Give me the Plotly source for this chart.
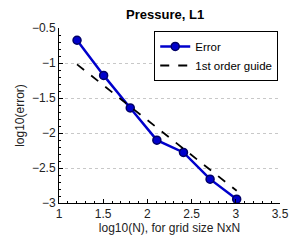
import plotly.graph_objects as go

log_n = [1.204, 1.505, 1.806, 2.107, 2.408, 2.709, 3.010]
log_err = [-0.675, -1.177, -1.642, -2.102, -2.278, -2.659, -2.945]
guide_x = [1.204, 3.010]
guide_y = [-1.02, -2.826]

fig = go.Figure()
fig.add_trace(go.Scatter(
    x=log_n, y=log_err, mode="lines+markers", name="Error",
    line=dict(color="#0000cc", width=2.5),
    marker=dict(size=8, color="#0000cc", line=dict(color="#000066", width=1.5)),
))
fig.add_trace(go.Scatter(
    x=guide_x, y=guide_y, mode="lines", name="1st order guide",
    line=dict(color="black", width=1.8, dash="dash"),
))

# page body has an 8px margin, so the figure is 8px smaller and shifted
fig.update_layout(
    width=292, height=235,
    margin=dict(l=40, r=11, t=20, b=34),
    paper_bgcolor="white", plot_bgcolor="white",
    font=dict(family="Liberation Sans", size=12, color="#222"),
    title=dict(text="<b>Pressure, L1</b>", x=0.538, xanchor="center", y=0.972, yanchor="middle",
               font=dict(size=13, color="black")),
    showlegend=True,
    legend=dict(x=0.992, y=0.983, xanchor="right", yanchor="top",
                bordercolor="black", borderwidth=1, bgcolor="white",
                font=dict(size=11.5, color="black"), tracegroupgap=0,
                itemwidth=30),
)
fig.update_xaxes(
    range=[1, 3.5], dtick=0.5,
    showgrid=False, zeroline=False,
    showline=True, linecolor="black", linewidth=1,
    ticks="inside", ticklen=4, tickcolor="black",
    minor=dict(dtick=0.1, ticks="inside", ticklen=2, tickcolor="black", showgrid=False),
    title=dict(text="log10(N), for grid size NxN", standoff=2, font=dict(size=12)),
    tickfont=dict(size=12),
)
fig.update_yaxes(
    range=[-3, -0.5], dtick=0.5,
    showgrid=True, gridcolor="#c8c8c8", griddash="dot", gridwidth=1,
    zeroline=False,
    showline=True, linecolor="black", linewidth=1,
    ticks="inside", ticklen=4, tickcolor="black",
    minor=dict(dtick=0.1, ticks="inside", ticklen=2, tickcolor="black", showgrid=False),
    title=dict(text="log10(error)", standoff=4, font=dict(size=12)),
    tickfont=dict(size=12),
)

fig.write_html("out.html")
